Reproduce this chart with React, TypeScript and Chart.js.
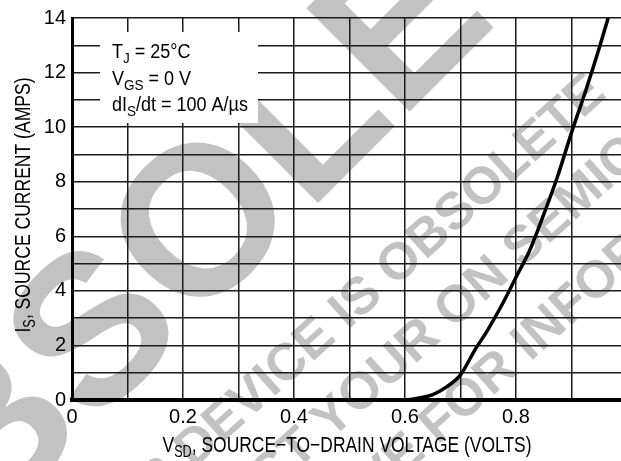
import React, { useEffect, useRef } from "react";
import { Chart, registerables } from "chart.js";

Chart.register(...registerables);

const VSD = [0, 0.55, 0.6, 0.625, 0.65, 0.675, 0.7, 0.725, 0.75, 0.775, 0.8, 0.825, 0.85, 0.875, 0.9, 0.925, 0.95, 0.966];
const IS = [0, 0, 0, 0.07, 0.2, 0.48, 0.92, 1.8, 2.6, 3.5, 4.5, 5.5, 6.8, 8.2, 9.8, 11.3, 12.9, 14];

const X_MIN = 0;
const X_MAX = 1;
const X_STEP = 0.1;
const Y_MIN = 0;
const Y_MAX = 14;
const Y_STEP = 1;

const NOTE_LINES = [
  [{ t: "T" }, { t: "J", sub: true }, { t: " = 25°C" }],
  [{ t: "V" }, { t: "GS", sub: true }, { t: " = 0 V" }],
  [{ t: "dI" }, { t: "S", sub: true }, { t: "/dt = 100 A/µs" }],
];
const X_TITLE = [{ t: "V" }, { t: "SD", sub: true }, { t: ", SOURCE−TO−DRAIN VOLTAGE (VOLTS)" }];
const Y_TITLE = [{ t: "I" }, { t: "S", sub: true }, { t: ", SOURCE CURRENT (AMPS)" }];

// anchor: index of the letter whose baseline start is placed at (bx, by)
const WATERMARK = [
  { text: "OBSOLETE", anchor: 4, bx: 308, by: 213, size: 212, angle: 45 },
  { text: "THIS DEVICE IS OBSOLETE", anchor: 12, bx: 348, by: 330, size: 52, angle: 42 },
  { text: "CONTACT YOUR ON SEMICONDUCTOR", anchor: 13, bx: 453, by: 330, size: 52, angle: 42 },
  { text: "REPRESENTATIVE FOR INFORMATION", anchor: 15, bx: 438, by: 445, size: 52, angle: 42 },
];

const FONT = '"Liberation Sans", Arial, sans-serif';
const NARROW = 0.9;

type Seg = { t: string; sub?: boolean };

function richWidth(ctx: CanvasRenderingContext2D, segs: Seg[], size: number, subSize: number) {
  let w = 0;
  for (const s of segs) {
    ctx.font = `${s.sub ? subSize : size}px ${FONT}`;
    w += ctx.measureText(s.t).width;
  }
  return w;
}

function drawRich(
  ctx: CanvasRenderingContext2D,
  segs: Seg[],
  x: number,
  y: number,
  size: number,
  subSize: number,
  subDy: number,
  center: boolean,
  sx: number,
  target?: number
) {
  const natural = richWidth(ctx, segs, size, subSize);
  const k = target ? target / natural : sx;
  const total = natural * k;
  const start = center ? x - total / 2 : x;
  ctx.save();
  ctx.translate(start, y);
  ctx.scale(k, 1);
  ctx.textAlign = "left";
  ctx.textBaseline = "alphabetic";
  ctx.fillStyle = "#000";
  let cx = 0;
  for (const s of segs) {
    ctx.font = `${s.sub ? subSize : size}px ${FONT}`;
    ctx.fillText(s.t, cx, s.sub ? subDy : 0);
    cx += ctx.measureText(s.t).width;
  }
  ctx.restore();
}

const decorPlugin = {
  id: "decor",
  beforeDraw(chart: any) {
    const ctx: CanvasRenderingContext2D = chart.ctx;
    ctx.save();
    ctx.fillStyle = "#fff";
    ctx.fillRect(0, 0, chart.width, chart.height);
    ctx.fillStyle = "#c2c2c2";
    for (const w of WATERMARK) {
      ctx.save();
      ctx.font = `bold ${w.size}px "Liberation Sans", Arial, sans-serif`;
      ctx.translate(w.bx, w.by);
      ctx.rotate((-w.angle * Math.PI) / 180);
      const pre = ctx.measureText(w.text.slice(0, w.anchor)).width;
      ctx.textAlign = "left";
      ctx.textBaseline = "alphabetic";
      ctx.fillText(w.text, -pre, 0);
      ctx.restore();
    }
    ctx.restore();
  },
  beforeDatasetsDraw(chart: any) {
    const ctx: CanvasRenderingContext2D = chart.ctx;
    ctx.save();
    ctx.fillStyle = "#fff";
    ctx.fillRect(100, 32, 158, 91);
    NOTE_LINES.forEach((segs, i) => {
      drawRich(ctx, segs as Seg[], 112, 58 + i * 26.5, 20, 15, 5, false, NARROW);
    });
    ctx.restore();
  },
  afterDraw(chart: any) {
    const ctx: CanvasRenderingContext2D = chart.ctx;
    ctx.save();
    drawRich(ctx, X_TITLE as Seg[], 347, 452, 22, 16, 5, true, NARROW, 369);
    ctx.translate(30, 205);
    ctx.rotate(-Math.PI / 2);
    drawRich(ctx, Y_TITLE as Seg[], 0, 0, 22, 16, 5, true, NARROW, 255);
    ctx.restore();
  },
};

export default function App() {
  const ref = useRef<HTMLCanvasElement | null>(null);
  useEffect(() => {
    if (!ref.current) return;
    const chart = new Chart(ref.current, {
      type: "line",
      data: {
        datasets: [
          {
            data: VSD.map((v, i) => ({ x: v, y: IS[i] })),
            borderColor: "#000",
            borderWidth: 3.5,
            pointRadius: 0,
            cubicInterpolationMode: "monotone",
            fill: false,
          },
        ],
      },
      options: {
        responsive: false,
        animation: false,
        devicePixelRatio: 1,
        layout: { padding: { left: 0, top: 17, right: 13, bottom: 0 } },
        plugins: { legend: { display: false }, tooltip: { enabled: false } },
        scales: {
          x: {
            type: "linear",
            min: X_MIN,
            max: X_MAX,
            afterFit: (s: any) => {
              s.height = 61;
            },
            ticks: {
              stepSize: X_STEP,
              color: "#000",
              font: { family: FONT, size: 20 },
              padding: 5,
              maxRotation: 0,
              autoSkip: false,
              callback: (v: any, i: number) => (i % 2 === 0 ? String(Number(Number(v).toFixed(1))) : ""),
            },
            grid: { color: "#1a1a1a", lineWidth: 1.5, drawTicks: false },
            border: { display: true, color: "#000", width: 4 },
          },
          y: {
            type: "linear",
            min: Y_MIN,
            max: Y_MAX,
            afterFit: (s: any) => {
              s.width = 72;
            },
            ticks: {
              stepSize: Y_STEP,
              color: "#000",
              font: { family: FONT, size: 20 },
              padding: 6,
              autoSkip: false,
              callback: (v: any) => (Math.round(Number(v)) % 2 === 0 ? String(Math.round(Number(v))) : ""),
            },
            grid: { color: "#1a1a1a", lineWidth: 1.5, drawTicks: false },
            border: { display: true, color: "#000", width: 3 },
          },
        },
      },
      plugins: [decorPlugin],
    } as any);
    return () => chart.destroy();
  }, []);
  return (
    <div style={{ position: "fixed", left: 0, top: 0, width: 621, height: 461, overflow: "hidden", background: "#fff" }}>
      <canvas ref={ref} width={640} height={461} style={{ display: "block", width: 640, height: 461 }} />
    </div>
  );
}
